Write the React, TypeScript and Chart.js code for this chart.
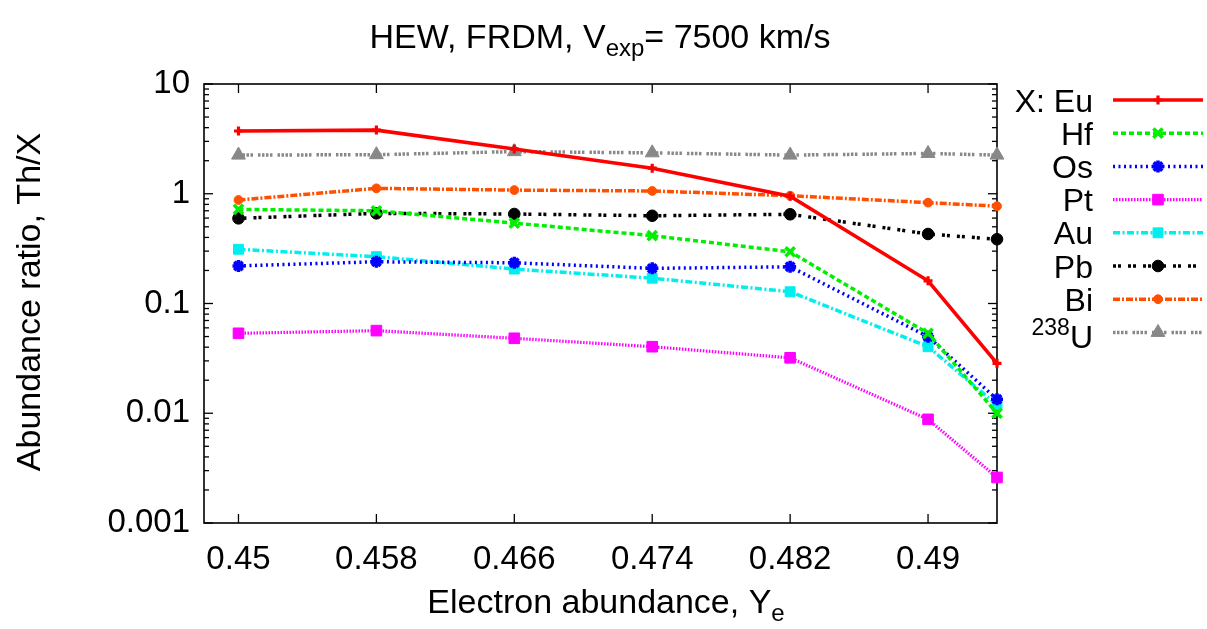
import React, { useEffect, useRef } from 'react';
import { Chart, registerables } from 'chart.js';
import { drawPoint } from 'chart.js/helpers';

Chart.register(...registerables);

// ---- data ----
const ye = [0.45, 0.458, 0.466, 0.474, 0.482, 0.49, 0.494];
const eu = [3.73, 3.8, 2.56, 1.71, 0.95, 0.161, 0.0285];
const hf = [0.72, 0.7, 0.54, 0.415, 0.296, 0.0535, 0.01];
const os = [0.22, 0.24, 0.235, 0.209, 0.216, 0.0499, 0.0134];
const pt = [0.0535, 0.0566, 0.0482, 0.0404, 0.032, 0.0088, 0.0026];
const au = [0.312, 0.267, 0.206, 0.17, 0.128, 0.0404, 0.0119];
const pb = [0.597, 0.663, 0.654, 0.63, 0.65, 0.43, 0.385];
const bi = [0.877, 1.12, 1.08, 1.06, 0.96, 0.83, 0.77];
const u238 = [2.25, 2.27, 2.42, 2.36, 2.25, 2.33, 2.25];

const seriesLabels = ['X: Eu', 'Hf', 'Os', 'Pt', 'Au', 'Pb', 'Bi', 'U'];
const seriesSup = ['', '', '', '', '', '', '', '238'];
const seriesValues = [eu, hf, os, pt, au, pb, bi, u238];

const xTickValues = [0.45, 0.458, 0.466, 0.474, 0.482, 0.49];
const xTickLabels = ['0.45', '0.458', '0.466', '0.474', '0.482', '0.49'];
const yTickValues = [0.001, 0.01, 0.1, 1, 10];
const yTickLabels = ['0.001', '0.01', '0.1', '1', '10'];

const titleMain = 'HEW, FRDM, V';
const titleSub = 'exp';
const titleRest = '= 7500 km/s';
const xTitleMain = 'Electron abundance, Y';
const xTitleSub = 'e';
const yTitle = 'Abundance ratio, Th/X';

// ---- styles ----
const FONT = '"Liberation Sans", Arial, Helvetica, sans-serif';
const styles = [
  { color: '#ff0000', dash: [], width: 3.6, pointStyle: 'cross', radius: 4.5, pbw: 3.2 },
  { color: '#00ee00', dash: [5, 3], width: 3.5, pointStyle: 'crossRot', radius: 6.5, pbw: 3.5 },
  { color: '#0000ff', dash: [2, 3.5], width: 3.5, pointStyle: 'star', radius: 6, pbw: 3.5 },
  { color: '#ff00ff', dash: [1.5, 1.5], width: 3.2, pointStyle: 'rect', radius: 7.5, pbw: 1 },
  { color: '#00eeee', dash: [7, 2.5, 2, 2.5], width: 3.5, pointStyle: 'rect', radius: 7, pbw: 1 },
  { color: '#000000', dash: [3, 2, 3, 7], width: 3.5, pointStyle: 'circle', radius: 5.8, pbw: 1 },
  { color: '#ff5000', dash: [7, 2, 2, 2], width: 3.5, pointStyle: 'circle', radius: 4.4, pbw: 1 },
  { color: '#888888', dash: [2.5, 1.5, 2.5, 1.5, 2.5, 1.5, 2.5, 5], width: 3.5, pointStyle: 'triangle', radius: 8, pbw: 1 },
];

const decor = {
  id: 'decor',
  beforeDatasetsDraw(chart: any) {
    const { ctx, chartArea: a, scales } = chart;
    ctx.save();
    ctx.strokeStyle = '#000';
    ctx.lineWidth = 1.6;
    ctx.setLineDash([]);
    ctx.strokeRect(a.left, a.top, a.right - a.left, a.bottom - a.top);
    ctx.lineWidth = 1.3;
    const line = (x1: number, y1: number, x2: number, y2: number) => {
      ctx.beginPath();
      ctx.moveTo(x1, y1);
      ctx.lineTo(x2, y2);
      ctx.stroke();
    };
    for (const v of xTickValues) {
      const px = scales.x.getPixelForValue(v);
      line(px, a.bottom, px, a.bottom - 9);
      line(px, a.top, px, a.top + 9);
    }
    for (let d = -3; d <= 1; d++) {
      for (let k = 1; k <= 9; k++) {
        const v = k * Math.pow(10, d);
        if (v > 10.0001) break;
        const py = scales.y.getPixelForValue(v);
        const len = k === 1 ? 9 : 5;
        line(a.left, py, a.left + len, py);
        line(a.right, py, a.right - len, py);
      }
    }
    ctx.restore();
  },
  afterDraw(chart: any) {
    const { ctx } = chart;
    ctx.save();
    ctx.fillStyle = '#000';
    ctx.textBaseline = 'alphabetic';
    ctx.textAlign = 'left';
    const big = `34px ${FONT}`;
    const small = `24px ${FONT}`;
    const leg = `32px ${FONT}`;
    const legSmall = `23px ${FONT}`;
    // title
    ctx.font = big;
    const w1 = ctx.measureText(titleMain).width;
    const w3 = ctx.measureText(titleRest).width;
    ctx.font = small;
    const w2 = ctx.measureText(titleSub).width;
    let x = 600 - (w1 + w2 + w3) / 2;
    const ty = 48;
    ctx.font = big;
    ctx.fillText(titleMain, x, ty);
    x += w1;
    ctx.font = small;
    ctx.fillText(titleSub, x, ty + 8);
    x += w2;
    ctx.font = big;
    ctx.fillText(titleRest, x, ty);

    // x title
    ctx.font = big;
    const xw1 = ctx.measureText(xTitleMain).width;
    ctx.font = small;
    const xw2 = ctx.measureText(xTitleSub).width;
    let xx = 606 - (xw1 + xw2) / 2;
    const xy = 613;
    ctx.font = big;
    ctx.fillText(xTitleMain, xx, xy);
    xx += xw1;
    ctx.font = small;
    ctx.fillText(xTitleSub, xx, xy + 8);

    // y title
    ctx.save();
    ctx.translate(40, 302);
    ctx.rotate(-Math.PI / 2);
    ctx.font = big;
    ctx.textAlign = 'center';
    ctx.fillText(yTitle, 0, 0);
    ctx.restore();

    // legend
    const textRight = 1093;
    const sx1 = 1113;
    const sx2 = 1203;
    for (let i = 0; i < seriesLabels.length; i++) {
      const st = styles[i];
      const cy = 100 + 33.2 * i;
      ctx.font = leg;
      ctx.textAlign = 'right';
      ctx.fillStyle = '#000';
      const base = cy + 11.5 + (seriesSup[i] ? 4 : 0);
      ctx.fillText(seriesLabels[i], textRight, base);
      if (seriesSup[i]) {
        const uw = ctx.measureText(seriesLabels[i]).width;
        ctx.font = legSmall;
        ctx.fillText(seriesSup[i], textRight - uw, base - 13);
      }
      ctx.save();
      ctx.strokeStyle = st.color;
      ctx.lineWidth = st.width;
      ctx.setLineDash(st.dash);
      ctx.beginPath();
      ctx.moveTo(sx1, cy);
      ctx.lineTo(sx2, cy);
      ctx.stroke();
      ctx.setLineDash([]);
      ctx.fillStyle = st.color;
      ctx.strokeStyle = st.color;
      ctx.lineWidth = st.pbw;
      drawPoint(ctx, { pointStyle: st.pointStyle, radius: st.radius, rotation: 0, borderWidth: st.pbw } as any, (sx1 + sx2) / 2, cy);
      ctx.restore();
    }
    ctx.restore();
  },
};

export default function App() {
  const ref = useRef<HTMLCanvasElement | null>(null);
  useEffect(() => {
    if (!ref.current) return;
    const datasets = seriesValues.map((vals, i) => {
      const st = styles[i];
      return {
        label: seriesSup[i] + seriesLabels[i],
        data: ye.map((x, j) => ({ x, y: vals[j] })),
        borderColor: st.color,
        backgroundColor: st.color,
        borderWidth: st.width,
        borderDash: st.dash,
        pointStyle: st.pointStyle,
        pointRadius: st.radius,
        pointBorderWidth: st.pbw,
        pointBackgroundColor: st.color,
        pointBorderColor: st.color,
        tension: 0,
        clip: false as any,
      };
    });
    const chart = new Chart(ref.current, {
      type: 'line',
      data: { datasets: datasets as any },
      options: {
        responsive: false,
        animation: false,
        devicePixelRatio: 1,
        layout: { padding: { top: 84, right: 210, bottom: 0, left: 0 } },
        plugins: { legend: { display: false }, title: { display: false }, tooltip: { enabled: false } },
        scales: {
          x: {
            type: 'linear',
            min: 0.448,
            max: 0.494,
            grid: { display: false, drawTicks: false },
            border: { display: false },
            afterBuildTicks: (s: any) => {
              s.ticks = xTickValues.map((v) => ({ value: v }));
            },
            afterFit: (s: any) => {
              s.height = 106;
            },
            ticks: {
              autoSkip: false,
              maxRotation: 0,
              padding: 17,
              color: '#000',
              font: { family: FONT, size: 33 },
              callback: (_v: any, i: number) => xTickLabels[i],
            },
          },
          y: {
            type: 'logarithmic',
            min: 0.001,
            max: 10,
            grid: { display: false, drawTicks: false },
            border: { display: false },
            afterBuildTicks: (s: any) => {
              s.ticks = yTickValues.map((v) => ({ value: v }));
            },
            afterFit: (s: any) => {
              s.width = 204;
            },
            ticks: {
              autoSkip: false,
              padding: 14,
              color: '#000',
              font: { family: FONT, size: 33 },
              callback: (_v: any, i: number) => yTickLabels[i],
            },
          },
        },
      },
      plugins: [decor],
    });
    return () => chart.destroy();
  }, []);
  return (
    <div style={{ position: 'absolute', left: 0, top: 0, width: 1207, height: 629, background: '#fff' }}>
      <canvas ref={ref} width={1207} height={629} style={{ display: 'block' }} />
    </div>
  );
}
